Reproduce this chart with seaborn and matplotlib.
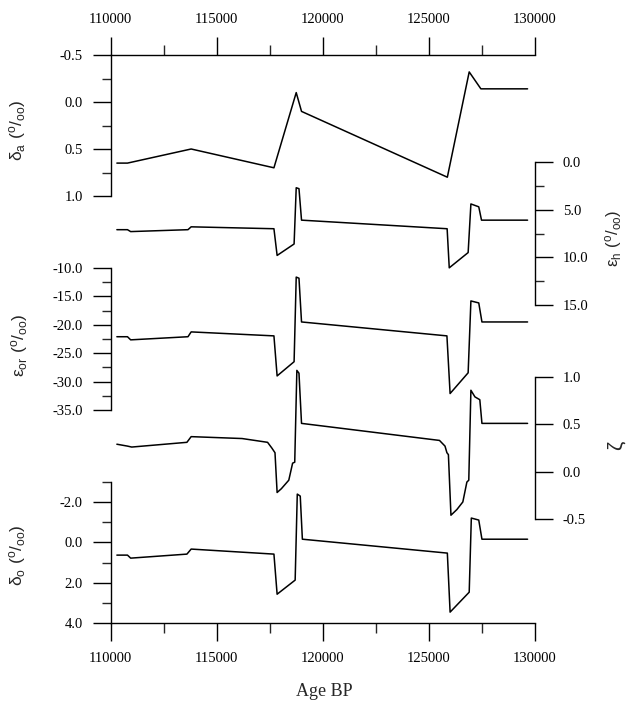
import numpy as np
import pandas as pd
import matplotlib
matplotlib.use("Agg")
import matplotlib.pyplot as plt
from matplotlib.ticker import MultipleLocator, FixedLocator, NullLocator
import seaborn as sns

# ---------------- data ----------------
age_a = [110300, 110800, 113800, 117700, 118750, 119000, 125870, 126900, 127450, 129650]
delta_a = [0.65, 0.65, 0.50, 0.70, -0.10, 0.10, 0.80, -0.32, -0.14, -0.14]

age_h = [110300, 110800, 110950, 113650, 113800, 117700, 117850, 118650, 118750, 118880,
         119000, 125860, 125960, 126850, 126980, 127350, 127480, 129650]
eps_h = [7.1, 7.1, 7.3, 7.1, 6.8, 7.0, 9.8, 8.6, 2.7, 2.8,
         6.1, 7.0, 11.1, 9.5, 4.4, 4.7, 6.1, 6.1]

age_or = [110300, 110800, 110950, 113650, 113800, 117700, 117850, 118650, 118750, 118880,
          119000, 125850, 126000, 126850, 126980, 127350, 127500, 129650]
eps_or = [-22.1, -22.1, -22.65, -22.1, -21.25, -21.95, -29.0, -26.5, -11.6, -11.8,
          -19.5, -21.95, -32.1, -28.45, -15.8, -16.15, -19.5, -19.5]

age_z = [110300, 110800, 111000, 113600, 113800, 116200, 117400, 117600, 117750, 117850,
         118050, 118400, 118580, 118680, 118780, 118880, 119000, 125500, 125760, 125850,
         125920, 126040, 126320, 126600, 126790, 126880, 126980, 127170, 127400, 127500,
         129650]
zeta = [0.29, 0.27, 0.26, 0.31, 0.37, 0.35, 0.31, 0.25, 0.20, -0.22,
        -0.18, -0.09, 0.09, 0.10, 1.07, 1.04, 0.51, 0.33, 0.27, 0.20,
        0.18, -0.46, -0.40, -0.32, -0.11, -0.09, 0.86, 0.79, 0.76, 0.51,
        0.51]

age_o = [110300, 110800, 110950, 113600, 113800, 117700, 117850, 118700, 118800, 118940,
         119040, 125870, 126000, 126900, 127000, 127350, 127500, 129650]
delta_o = [0.63, 0.63, 0.78, 0.58, 0.33, 0.58, 2.57, 1.87, -2.40, -2.30,
           -0.16, 0.53, 3.46, 2.47, -1.21, -1.11, -0.16, -0.16]

x_ticks = [110000, 115000, 120000, 125000, 130000]

# ---------------- style ----------------
sns.set_style("ticks")
plt.rcParams["font.family"] = ["Liberation Serif", "DejaVu Serif"]
plt.rcParams["axes.unicode_minus"] = False
plt.rcParams["mathtext.fontset"] = "dejavusans"
plt.rcParams["mathtext.default"] = "regular"

W, H = 629, 703
fig = plt.figure(figsize=(W / 100, H / 100), dpi=100)

LEFT, RIGHT = 110.5, 535.0


def make_ax(top_px, bot_px):
    ax = fig.add_axes([LEFT / W, 1 - bot_px / H, (RIGHT - LEFT) / W, (bot_px - top_px) / H])
    ax.patch.set_visible(False)
    for s in ax.spines.values():
        s.set_visible(False)
        s.set_linewidth(1.0)
        s.set_color("black")
    ax.set_xlim(110000, 130000)
    ax.xaxis.set_major_locator(NullLocator())
    ax.xaxis.set_minor_locator(NullLocator())
    ax.tick_params(which="major", direction="out", length=13, width=1.0,
                   labelsize=10.5, pad=7, colors="black")
    ax.tick_params(which="minor", direction="out", length=6.5, width=1.0)
    ax.set_xlabel("")
    ax.set_ylabel("")
    return ax


def draw(ax, xs, ys):
    df = pd.DataFrame({"age": xs, "v": ys})
    sns.lineplot(data=df, x="age", y="v", ax=ax, color="black", lw=1.1,
                 estimator=None, sort=False, clip_on=False)
    ax.set_xlabel("")
    ax.set_ylabel("")


def setup_x(ax, where):
    ax.xaxis.set_major_locator(FixedLocator(x_ticks))
    ax.xaxis.set_minor_locator(MultipleLocator(2500))
    ax.xaxis.set_major_formatter(matplotlib.ticker.FormatStrFormatter("%d"))
    if where == "top":
        ax.xaxis.tick_top()
        ax.spines["top"].set_visible(True)
    else:
        ax.xaxis.tick_bottom()
        ax.spines["bottom"].set_visible(True)
    ax.tick_params(axis="x", which="major", length=13, pad=8)
    ax.tick_params(axis="x", which="minor", length=7)


def setup_y(ax, side, lim, major, minor=None):
    ax.set_ylim(*lim)
    ax.yaxis.set_major_locator(MultipleLocator(major))
    if minor:
        ax.yaxis.set_minor_locator(MultipleLocator(minor))
    else:
        ax.yaxis.set_minor_locator(NullLocator())
    ax.yaxis.set_major_formatter(matplotlib.ticker.FormatStrFormatter("%.1f"))
    if side == "left":
        ax.yaxis.tick_left()
        ax.spines["left"].set_visible(True)
    else:
        ax.yaxis.tick_right()
        ax.spines["right"].set_visible(True)


# Panel 1: delta_a (left, inverted)
ax1 = make_ax(55, 196)
draw(ax1, age_a, delta_a)
setup_y(ax1, "left", (1.0, -0.5), 0.5, 0.25)
setup_x(ax1, "top")

# Panel 2: eps_h (right, inverted)
ax2 = make_ax(162, 305)
draw(ax2, age_h, eps_h)
setup_y(ax2, "right", (15.0, 0.0), 5.0, 2.5)

# Panel 3: eps_or (left)
ax3 = make_ax(268, 410)
draw(ax3, age_or, eps_or)
setup_y(ax3, "left", (-35.0, -10.0), 5.0, 2.5)

# Panel 4: zeta (right)
ax4 = make_ax(377, 519)
draw(ax4, age_z, zeta)
setup_y(ax4, "right", (-0.5, 1.0), 0.5, None)

# Panel 5: delta_o (left, inverted)
ax5 = make_ax(482, 623)
draw(ax5, age_o, delta_o)
setup_y(ax5, "left", (4.0, -3.0), 2.0, 1.0)
ax5.yaxis.set_major_locator(FixedLocator([-2.0, 0.0, 2.0, 4.0]))
ax5.yaxis.set_minor_locator(FixedLocator([-3.0, -1.0, 1.0, 3.0]))
setup_x(ax5, "bottom")

for ax in (ax1, ax2, ax3, ax4, ax5):
    ax.set_xlim(110000, 130000)

# axis labels
lab_kw = dict(rotation=90, ha="center", va="center", fontsize=12.5,
              family=["Liberation Sans", "DejaVu Sans"])
fig.text(17 / W, 1 - 130 / H, r"$\delta_a\ (^o/_{oo})$", **lab_kw)
fig.text(614 / W, 1 - 238 / H, r"$\varepsilon_h\ (^o/_{oo})$", rotation=90, ha="center",
         va="center", fontsize=12, family=["Liberation Sans", "DejaVu Sans"])
fig.text(20 / W, 1 - 345 / H, r"$\varepsilon_{or}\ (^o/_{oo})$", **lab_kw)
fig.text(617 / W, 1 - 446 / H, r"$\zeta$", rotation=90, ha="center", va="center",
         fontsize=15, family=["Liberation Sans", "DejaVu Sans"])
fig.text(17 / W, 1 - 555 / H, r"$\delta_o\ (^o/_{oo})$", **lab_kw)
fig.text(324 / W, 1 - 692 / H, "Age BP", ha="center", va="center", fontsize=13)

fig.savefig("out.png", dpi=100)
